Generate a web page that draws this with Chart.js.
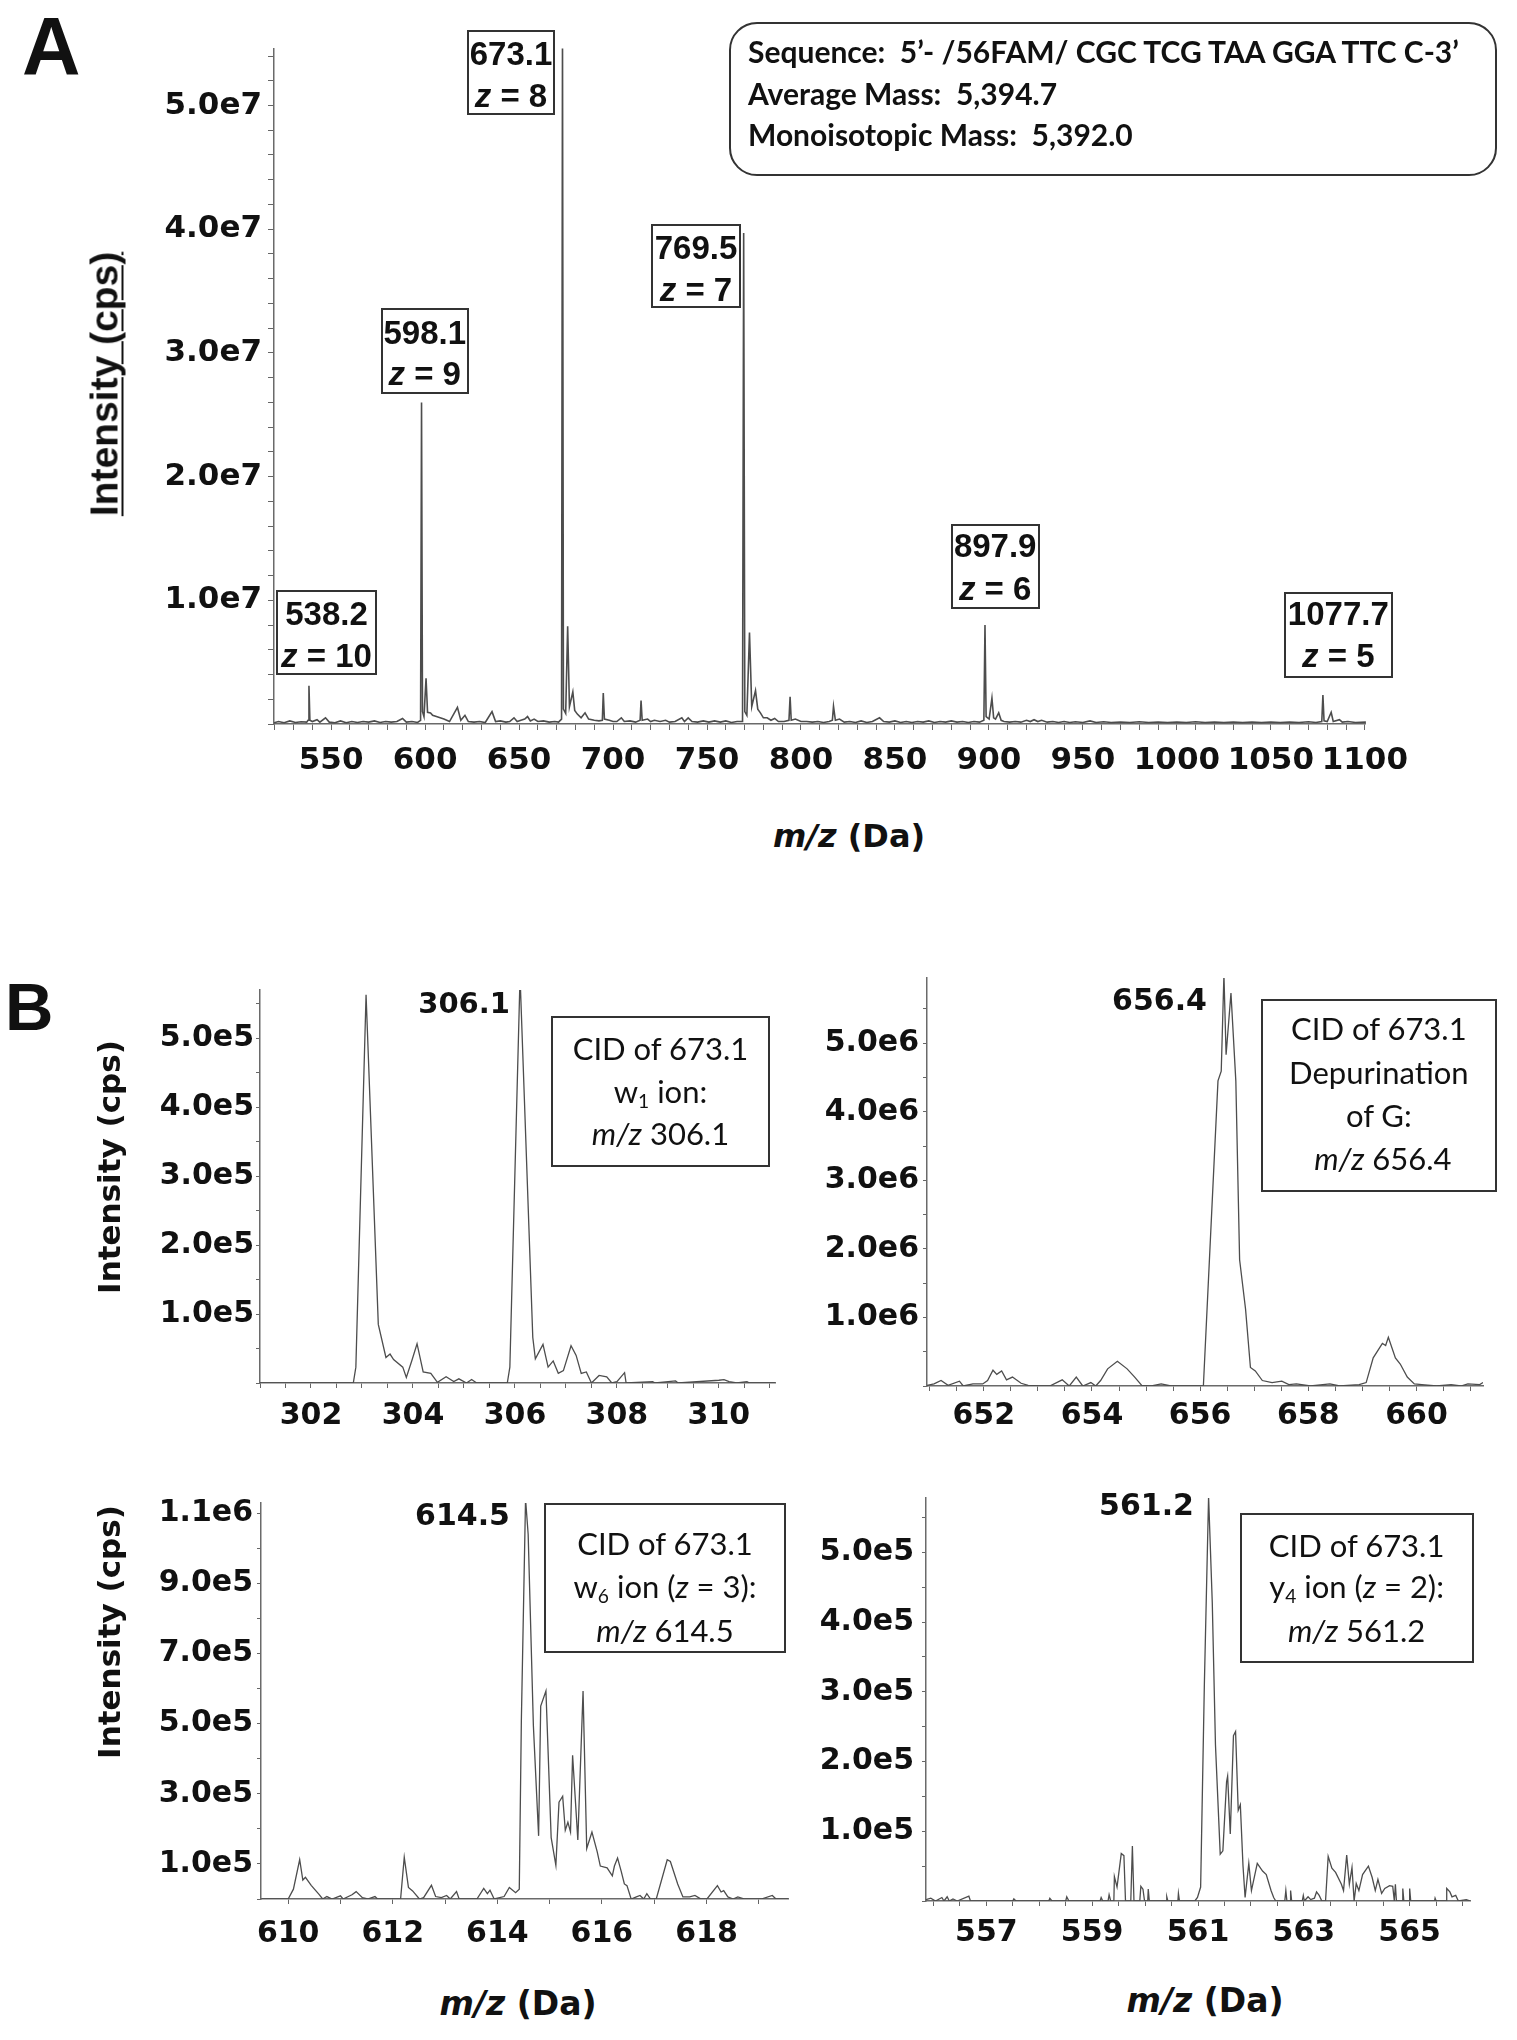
<!DOCTYPE html>
<html>
<head>
<meta charset="utf-8">
<script src="https://cdn.jsdelivr.net/npm/chart.js@4.4.1/dist/chart.umd.min.js"></script>
<style>
  body { margin: 0; background: #fff; }
  #page { position: relative; width: 1517px; height: 2040px; overflow: hidden; background: #fff; }
  canvas { position: absolute; z-index: 1; }
  .t { position: absolute; white-space: nowrap; line-height: 1; color: #111; z-index: 2; }
  .box { position: absolute; border: 2px solid #333; box-sizing: border-box; z-index: 2; }
  sub { font-size: 0.62em; vertical-align: -0.28em; line-height: 0; }
</style>
</head>
<body>
<div id="page">
  <canvas id="chartA"></canvas>
  <canvas id="chartB1"></canvas>
  <canvas id="chartB2"></canvas>
  <canvas id="chartB3"></canvas>
  <canvas id="chartB4"></canvas>
</div>
<script>
// ----- Data: [m/z, intensity (cps)] -----
const specA = [
  [519.6, 1.0e5], [522, 2.0e5], [525, 1.0e5], [528, 2.5e5], [531, 1.2e5], [534, 1.8e5], [537, 1.5e5],
  [537.7, 3e5], [538.2, 3.1e6], [538.7, 3e5], [540, 2e5], [542.5, 3.5e5], [544, 1.5e5], [547, 5e5],
  [549, 1.5e5], [552, 1.0e5], [555, 2.5e5], [558, 1.0e5], [561, 2e5], [564, 1.2e5], [567, 2e5],
  [570, 1.5e5], [573, 2.5e5], [576, 1.2e5], [579, 2e5], [582, 1.5e5], [585, 2e5], [588, 4.5e5],
  [590, 1.5e5], [593, 2e5], [596, 1.2e5], [597.6, 3e5], [598.1, 2.6e7], [598.6, 1.0e6], [599.4, 6e5],
  [600.5, 3.7e6], [601.3, 9.5e5], [602.9, 9e5], [604, 7e5], [606, 6e5], [608, 5e5], [610, 4e5],
  [613, 2e5], [617.2, 1.35e6], [619, 3e5], [621.2, 7e5], [623, 2e5], [626, 1.5e5], [629, 2e5],
  [632, 1.2e5], [635.6, 1.0e6], [637.5, 2e5], [640, 2.5e5], [643, 1.5e5], [645, 2e5], [647.3, 5e5],
  [649, 2e5], [651, 3e5], [653, 4e5], [654.5, 6e5], [656, 2.5e5], [658, 4e5], [660, 2e5], [663, 2.5e5],
  [666, 1.5e5], [669, 2e5], [671, 1.5e5], [672.6, 4e5], [673.1, 5.6e7], [673.6, 1.2e6], [674.8, 8.5e5],
  [675.85, 7.9e6], [676.8, 1.4e6], [678.6, 2.6e6], [679.6, 1.1e6], [681, 8e5], [683, 5e5], [685.1, 9e5],
  [687, 4e5], [690, 3e5], [692.5, 2.5e5], [694.3, 3e5], [694.8, 2.5e6], [695.4, 4e5], [698, 3e5],
  [700, 2e5], [702, 2e5], [704.4, 5e5], [706, 2e5], [709, 2.5e5], [712, 1.5e5], [714.4, 3e5],
  [714.9, 1.9e6], [715.5, 3e5], [718.4, 4e5], [720, 2e5], [722, 3e5], [725, 2e5], [728, 3e5],
  [730, 1.5e5], [733, 2e5], [736.6, 5e5], [738, 2e5], [740, 5e5], [742, 2e5], [745, 1.5e5], [748, 2.5e5],
  [751, 1.5e5], [754, 2.5e5], [757, 1.5e5], [760, 2.5e5], [763, 1.2e5], [766, 2e5], [768.9, 2e5],
  [769.5, 3.97e7], [770.1, 1.0e6], [771.2, 7e5], [772.6, 7.4e6], [773.8, 1.4e6], [775.8, 2.7e6],
  [777, 1.2e6], [778.4, 9e5], [780, 5e5], [782, 5e5], [784, 3e5], [786, 4.5e5], [788, 2e5], [791, 2e5],
  [793.6, 3e5], [794.2, 2.2e6], [794.8, 3e5], [797, 4e5], [800, 2e5], [803, 2e5], [806, 1.5e5],
  [809, 2e5], [812, 1.2e5], [815, 2e5], [816.7, 3e5], [817.3, 1.43e6], [818.3, 3e5], [820.5, 4e5],
  [823, 1.5e5], [826, 2e5], [829, 1.2e5], [832, 2.5e5], [835, 1.2e5], [838, 2e5], [841.8, 5e5],
  [844, 2e5], [847, 1.5e5], [850, 2.5e5], [853, 1.2e5], [856, 2e5], [859, 1.2e5], [862, 2e5],
  [865, 1.5e5], [868, 2.5e5], [871, 1.2e5], [874, 2e5], [877, 1.5e5], [880, 2.5e5], [883, 1.5e5],
  [886, 2e5], [889, 1.2e5], [892, 2e5], [895, 1.5e5], [897.3, 3e5], [897.9, 8.0e6], [898.5, 6e5],
  [900.1, 4e5], [901.6, 2.1e6], [902.5, 5e5], [903.5, 4e5], [905.2, 9e5], [906.5, 3e5], [908, 2e5],
  [911, 1.5e5], [914, 2e5], [917, 1.5e5], [920, 3e5], [922, 2e5], [924, 3.5e5], [926, 2e5], [928, 3e5],
  [931, 1.5e5], [934, 2e5], [937, 1.2e5], [940, 2e5], [943, 1.2e5], [946, 1.8e5], [950, 1.2e5],
  [953.8, 2.5e5], [957, 1.2e5], [961, 1.8e5], [965, 1.2e5], [970, 1.6e5], [975, 1.2e5], [980, 1.8e5],
  [985, 1.2e5], [990, 1.6e5], [995, 1.2e5], [1000, 1.6e5], [1005, 1.2e5], [1010, 1.8e5], [1015, 1.2e5],
  [1020, 1.6e5], [1025, 1.2e5], [1030, 1.6e5], [1035, 1.2e5], [1040, 1.6e5], [1045, 1.2e5],
  [1050, 1.6e5], [1055, 1.2e5], [1060, 1.6e5], [1065, 1.2e5], [1070, 1.8e5], [1074, 1.2e5],
  [1077.1, 2e5], [1077.7, 2.35e6], [1078.3, 2.5e5], [1080, 2e5], [1082.1, 9.5e5], [1083.2, 2e5],
  [1086.5, 3.5e5], [1088, 1.5e5], [1091, 2e5], [1095, 1.2e5], [1100.6, 1.5e5]
];

const specB1 = [
  [301.0, 0], [302.83, 0], [302.88, 0.23e5], [303.08, 5.63e5], [303.32, 0.85e5], [303.47, 0.37e5],
  [303.55, 0.42e5], [303.62, 0.34e5], [303.8, 0.23e5], [303.87, 0.08e5], [303.98, 0.33e5],
  [304.08, 0.57e5], [304.2, 0.16e5], [304.35, 0.14e5], [304.48, 0.01e5], [304.65, 0.09e5],
  [304.8, 0.02e5], [304.9, 0.06e5], [305.05, 0], [305.15, 0.05e5], [305.25, 0], [305.85, 0],
  [305.9, 0.23e5], [306.1, 5.9e5], [306.35, 0.66e5], [306.4, 0.35e5], [306.55, 0.56e5],
  [306.65, 0.23e5], [306.75, 0.32e5], [306.85, 0.14e5], [306.95, 0.18e5], [307.1, 0.54e5],
  [307.2, 0.4e5], [307.3, 0.14e5], [307.4, 0.16e5], [307.5, 0], [307.65, 0.11e5], [307.8, 0.09e5],
  [307.9, 0], [308.0, 0.02e5], [308.15, 0.15e5], [308.18, 0], [308.7, 0.02e5], [308.75, 0],
  [309.15, 0.03e5], [309.2, 0], [310.0, 0.04e5], [310.1, 0.05e5], [310.2, 0.02e5], [310.35, 0],
  [310.55, 0.02e5], [310.6, 0], [311.1, 0]
];

const specB2 = [
  [650.95, 0.01e6], [651.08, 0.03e6], [651.21, 0.08e6], [651.34, 0.01e6], [651.55, 0.07e6], [651.62, 0],
  [651.8, 0.03e6], [651.98, 0.03e6], [652.07, 0.08e6], [652.17, 0.23e6], [652.24, 0.17e6],
  [652.33, 0.22e6], [652.42, 0.09e6], [652.53, 0.13e6], [652.69, 0.04e6], [652.82, 0.01e6],
  [653.0, 0], [653.22, 0], [653.45, 0.09e6], [653.58, 0], [653.71, 0.13e6], [653.83, 0],
  [653.98, 0.05e6], [654.07, 0], [654.16, 0.08e6], [654.29, 0.25e6], [654.47, 0.36e6],
  [654.65, 0.25e6], [654.79, 0.13e6], [654.92, 0.01e6], [655.1, 0], [655.28, 0.03e6], [655.46, 0],
  [655.68, 0], [656.06, 0], [656.33, 4.45e6], [656.39, 4.59e6], [656.44, 6.0e6], [656.48, 4.83e6],
  [656.57, 5.73e6], [656.66, 4.45e6], [656.73, 1.84e6], [656.84, 1.12e6], [656.93, 0.27e6],
  [657.02, 0.22e6], [657.15, 0.08e6], [657.33, 0.05e6], [657.51, 0.07e6], [657.64, 0.02e6],
  [657.78, 0.03e6], [658.04, 0], [658.4, 0.03e6], [658.58, 0], [658.94, 0.02e6], [659.07, 0.05e6],
  [659.2, 0.41e6], [659.37, 0.62e6], [659.43, 0.59e6], [659.48, 0.71e6], [659.61, 0.41e6],
  [659.7, 0.32e6], [659.83, 0.13e6], [659.96, 0.03e6], [660.1, 0.02e6], [660.37, 0], [660.64, 0.02e6],
  [660.82, 0], [660.95, 0.03e6], [661.17, 0.02e6], [661.23, 0.05e6]
];

const specB3 = [
  [609.49, 0], [610.0, 0], [610.1, 0.28e5], [610.22, 1.12e5], [610.28, 0.54e5], [610.33, 0.62e5],
  [610.44, 0.39e5], [610.59, 0.13e5], [610.66, 0], [610.74, 0.07e5], [610.84, 0], [611.0, 0.09e5],
  [611.05, 0], [611.22, 0.12e5], [611.3, 0.21e5], [611.42, 0.04e5], [611.52, 0], [611.66, 0.07e5],
  [611.71, 0], [612.15, 0], [612.22, 1.19e5], [612.3, 0.33e5], [612.38, 0.23e5], [612.51, 0],
  [612.59, 0.04e5], [612.74, 0.39e5], [612.82, 0.07e5], [612.93, 0.04e5], [613.03, 0.1e5], [613.1, 0],
  [613.22, 0.21e5], [613.27, 0], [613.61, 0], [613.74, 0.3e5], [613.81, 0.15e5], [613.86, 0.25e5],
  [613.94, 0], [614.13, 0.07e5], [614.23, 0.33e5], [614.35, 0.18e5], [614.42, 0.28e5], [614.46, 5.1e5],
  [614.54, 11.4e5], [614.59, 10.4e5], [614.69, 4.94e5], [614.79, 1.8e5], [614.83, 5.5e5],
  [614.93, 5.93e5], [615.03, 1.75e5], [615.12, 0.96e5], [615.18, 2.76e5], [615.25, 2.93e5],
  [615.3, 1.96e5], [615.35, 2.19e5], [615.4, 1.91e5], [615.44, 4.1e5], [615.54, 1.68e5],
  [615.64, 5.93e5], [615.71, 1.44e5], [615.81, 1.91e5], [615.91, 1.35e5], [615.97, 0.94e5],
  [616.1, 0.89e5], [616.2, 0.66e5], [616.24, 0.94e5], [616.3, 1.17e5], [616.37, 0.79e5],
  [616.43, 0.43e5], [616.48, 0.38e5], [616.56, 0], [616.66, 0.06e5], [616.73, 0.1e5], [616.8, 0],
  [616.86, 0.15e5], [616.93, 0], [617.04, 0], [617.25, 1.12e5], [617.31, 1.07e5], [617.45, 0.43e5],
  [617.55, 0.06e5], [617.68, 0.06e5], [617.78, 0.1e5], [617.88, 0.01e5], [618.01, 0], [618.21, 0.38e5],
  [618.28, 0.2e5], [618.33, 0.24e5], [618.41, 0.06e5], [618.51, 0], [618.6, 0.06e5], [618.73, 0],
  [619.05, 0], [619.26, 0.1e5], [619.33, 0], [619.56, 0]
];

const specB4 = [
  [555.86, 0.02e5], [555.95, 0.04e5], [556.04, 0], [556.16, 0.05e5], [556.2, 0], [556.26, 0.06e5],
  [556.3, 0], [556.37, 0.03e5], [556.45, 0], [556.67, 0.07e5], [556.7, 0], [557.5, 0], [557.52, 0.03e5],
  [557.56, 0], [558.18, 0], [558.2, 0.04e5], [558.24, 0], [558.5, 0], [558.52, 0.06e5], [558.56, 0],
  [559.15, 0], [559.17, 0.05e5], [559.2, 0], [559.3, 0], [559.32, 0.09e5], [559.35, 0], [559.41, 0],
  [559.42, 0.35e5], [559.47, 0.2e5], [559.55, 0.68e5], [559.6, 0.65e5], [559.63, 0], [559.73, 0],
  [559.76, 0.79e5], [559.79, 0], [559.9, 0], [559.92, 0.21e5], [559.96, 0.17e5], [559.99, 0],
  [560.05, 0], [560.06, 0.17e5], [560.08, 0], [560.4, 0], [560.41, 0.06e5], [560.43, 0], [560.62, 0],
  [560.63, 0.11e5], [560.65, 0], [560.94, 0], [560.99, 0.05e5], [561.05, 0.2e5], [561.12, 3.1e5],
  [561.2, 5.8e5], [561.27, 4.27e5], [561.33, 2.24e5], [561.42, 0.67e5], [561.47, 0.72e5],
  [561.54, 1.71e5], [561.56, 1.79e5], [561.61, 0.96e5], [561.67, 2.37e5], [561.71, 2.43e5],
  [561.76, 1.3e5], [561.8, 1.38e5], [561.85, 0.51e5], [561.89, 0.05e5], [561.96, 0.54e5],
  [562.01, 0.15e5], [562.12, 0.54e5], [562.22, 0.43e5], [562.29, 0.38e5], [562.38, 0.15e5],
  [562.43, 0.05e5], [562.47, 0], [562.64, 0], [562.66, 0.15e5], [562.68, 0], [562.74, 0],
  [562.75, 0.15e5], [562.77, 0], [562.97, 0], [562.99, 0.08e5], [563.01, 0], [563.08, 0.06e5],
  [563.13, 0.02e5], [563.2, 0.04e5], [563.24, 0.13e5], [563.29, 0.08e5], [563.34, 0], [563.41, 0],
  [563.46, 0.64e5], [563.53, 0.47e5], [563.6, 0.41e5], [563.71, 0.24e5], [563.75, 0.15e5],
  [563.81, 0.66e5], [563.86, 0.24e5], [563.91, 0.48e5], [563.95, 0], [563.99, 0.25e5], [564.04, 0.15e5],
  [564.11, 0.38e5], [564.22, 0.5e5], [564.29, 0.34e5], [564.35, 0.15e5], [564.4, 0.31e5],
  [564.47, 0.11e5], [564.53, 0.18e5], [564.62, 0.22e5], [564.68, 0.21e5], [564.71, 0], [564.73, 0.24e5],
  [564.75, 0], [564.86, 0], [564.87, 0.18e5], [564.89, 0], [564.99, 0], [565.0, 0.18e5], [565.02, 0],
  [565.47, 0], [565.48, 0.04e5], [565.5, 0], [565.69, 0], [565.7, 0.18e5], [565.76, 0.13e5],
  [565.8, 0.06e5], [565.87, 0.08e5], [565.92, 0], [566.07, 0.02e5], [566.14, 0]
];

// tick labels
const aXLabels = [550, 600, 650, 700, 750, 800, 850, 900, 950, 1000, 1050, 1100];
const aYLabels = [1e7, 2e7, 3e7, 4e7, 5e7];
const b1XLabels = [302, 304, 306, 308, 310];
const b1YLabels = [1e5, 2e5, 3e5, 4e5, 5e5];
const b2XLabels = [652, 654, 656, 658, 660];
const b2YLabels = [1e6, 2e6, 3e6, 4e6, 5e6];
const b3XLabels = [610, 612, 614, 616, 618];
const b3YLabels = [1e5, 3e5, 5e5, 7e5, 9e5, 1.1e6];
const b4XLabels = [557, 559, 561, 563, 565];
const b4YLabels = [1e5, 2e5, 3e5, 4e5, 5e5];

// ----- Layout helpers -----
const YW = 160, XH = 80, PT = 12, PR = 40;

function tickFont(size) {
  return { family: "'DejaVu Sans'", weight: "bold", size };
}

function stepTicks(min, max, step) {
  const out = [];
  for (let k = Math.ceil(min / step - 1e-9); k * step <= max + 1e-9; k++) {
    out.push({ value: Math.round(k * step * 1e6) / 1e6 });
  }
  return out;
}

function isLabel(list, v, step) {
  return list.some((l) => Math.abs(l - v) < step * 1e-4);
}

function sci(v) {
  const exp = Math.floor(Math.log10(v) + 1e-9);
  return (v / Math.pow(10, exp)).toFixed(1) + "e" + exp;
}

function xAxis(min, max, step, labels, tl, pad, fs) {
  return {
    type: "linear", min, max, bounds: "data",
    afterBuildTicks: (s) => { s.ticks = stepTicks(min, max, step); },
    afterFit: (s) => { s.height = XH; },
    grid: { drawOnChartArea: false, drawTicks: true, tickLength: tl, tickColor: "#666", tickWidth: 1 },
    border: { display: true, color: "#6a6a6a", width: 1.5 },
    ticks: {
      autoSkip: false, maxRotation: 0, minRotation: 0, padding: pad, color: "#111", font: tickFont(fs),
      callback: (v) => (isLabel(labels, v, step) ? String(Math.round(v)) : ""),
    },
  };
}

function yAxis(max, step, labels, tl, pad, fs) {
  return {
    type: "linear", min: 0, max, bounds: "data",
    afterBuildTicks: (s) => { s.ticks = stepTicks(0, max, step); },
    afterFit: (s) => { s.width = YW; },
    grid: { drawOnChartArea: false, drawTicks: true, tickLength: tl, tickColor: "#666", tickWidth: 1 },
    border: { display: true, color: "#6a6a6a", width: 1.5 },
    ticks: {
      autoSkip: false, padding: pad, color: "#111", font: tickFont(fs),
      callback: (v) => (isLabel(labels, v, step) ? sci(v) : ""),
    },
  };
}

function spectrum(id, area, pairs, x, y, lineWidth) {
  const cv = document.getElementById(id);
  const w = area.r - area.l + YW + PR;
  const h = area.b - area.t + PT + XH;
  cv.width = w; cv.height = h;
  cv.style.width = w + "px"; cv.style.height = h + "px";
  cv.style.left = area.l - YW + "px";
  cv.style.top = area.t - PT + "px";
  return new Chart(cv, {
    type: "scatter",
    data: {
      datasets: [{
        data: pairs.map((p) => ({ x: p[0], y: p[1] })),
        showLine: true, borderColor: "#4d4d4d", borderWidth: lineWidth,
        pointRadius: 0, tension: 0, fill: false,
      }],
    },
    options: {
      responsive: false, animation: false, devicePixelRatio: 1, events: [],
      layout: { padding: { top: PT, right: PR, left: 0, bottom: 0 } },
      plugins: { legend: { display: false }, tooltip: { enabled: false } },
      scales: { x, y },
    },
  });
}

spectrum("chartA", { l: 274, t: 36, r: 1380, b: 724 }, specA,
  xAxis(519.6, 1100.6, 10, aXLabels, 6, 12, 31), yAxis(5.46e7, 2e6, aYLabels, 6, 6, 31), 1.6);
spectrum("chartB1", { l: 260, t: 982, r: 775, b: 1383 }, specB1,
  xAxis(301.0, 311.1, 0.5, b1XLabels, 5, 10, 30), yAxis(5.7e5, 0.5e5, b1YLabels, 4, 2, 30), 1.3);
spectrum("chartB2", { l: 927, t: 968, r: 1483, b: 1386 }, specB2,
  xAxis(650.95, 661.23, 0.5, b2XLabels, 5, 7, 30), yAxis(5.95e6, 0.5e6, b2YLabels, 4, 4, 30), 1.3);
spectrum("chartB3", { l: 261, t: 1493, r: 788, b: 1899 }, specB3,
  xAxis(609.48, 619.56, 1, b3XLabels, 5, 12, 30), yAxis(1.129e6, 1e5, b3YLabels, 4, 4, 30), 1.3);
spectrum("chartB4", { l: 926, t: 1484, r: 1470, b: 1901 }, specB4,
  xAxis(555.86, 566.14, 0.5, b4XLabels, 5, 9, 30), yAxis(5.78e5, 0.5e5, b4YLabels, 4, 8, 30), 1.3);

// ----- Text overlays -----
const page = document.getElementById("page");
const FAM = {
  dv: { css: "'DejaVu Sans', sans-serif", k: 0.846 },
  lib: { css: "'Liberation Sans', Arial, sans-serif", k: 0.847 },
  lato: { css: "Lato, 'Open Sans', sans-serif", k: 0.887 },
};

function txt(html, x, base, size, fam, weight, align) {
  const el = document.createElement("div");
  el.className = "t";
  el.innerHTML = html;
  el.style.fontFamily = FAM[fam].css;
  el.style.fontSize = size + "px";
  el.style.fontWeight = weight || "normal";
  el.style.left = x + "px";
  el.style.top = base - FAM[fam].k * size + "px";
  const shift = align === "center" ? "-50%" : align === "right" ? "-100%" : "0";
  el.style.transform = "translateX(" + shift + ")";
  page.appendChild(el);
  return el;
}

function vtxt(html, cx, cy, size, fam, underline) {
  const el = document.createElement("div");
  el.className = "t";
  el.innerHTML = html;
  el.style.fontFamily = FAM[fam].css;
  el.style.fontSize = size + "px";
  el.style.fontWeight = "bold";
  el.style.left = cx + "px";
  el.style.top = cy + "px";
  el.style.transform = "translate(-50%, -50%) rotate(-90deg)";
  if (underline) {
    el.style.textDecoration = "underline";
    el.style.textDecorationThickness = "2px";
    el.style.textUnderlineOffset = "4px";
  }
  page.appendChild(el);
}

function box(l, t, r, b, radius) {
  const el = document.createElement("div");
  el.className = "box";
  el.style.left = l + "px"; el.style.top = t + "px";
  el.style.width = r - l + "px"; el.style.height = b - t + "px";
  if (radius) el.style.borderRadius = radius + "px";
  page.appendChild(el);
}

// panel letters
txt("A", 22, 75, 81, "lib", "bold", "left");
txt("B", 5, 1030, 67, "lib", "bold", "left");

// panel A axis titles
vtxt("Intensity (cps)", 104, 384, 39, "lib", true);
txt("<i>m/z</i> (Da)", 849, 847, 32, "dv", "bold", "center");

// panel A peak labels
const peakBoxes = [
  { l: 467, t: 30, r: 555, b: 115, m: "673.1", z: "8", b1: 65.4, b2: 106.6 },
  { l: 380.5, t: 308, r: 469, b: 393.6, m: "598.1", z: "9", b1: 344, b2: 385 },
  { l: 276, t: 590, r: 377, b: 675, m: "538.2", z: "10", b1: 625, b2: 666.5 },
  { l: 651, t: 224, r: 741, b: 308, m: "769.5", z: "7", b1: 259, b2: 300.5 },
  { l: 950.6, t: 523.5, r: 1039.8, b: 609, m: "897.9", z: "6", b1: 557.4, b2: 600 },
  { l: 1283.6, t: 592, r: 1393, b: 677.6, m: "1077.7", z: "5", b1: 625.3, b2: 666.5 },
];
peakBoxes.forEach((p) => {
  box(p.l, p.t, p.r, p.b);
  const cx = (p.l + p.r) / 2;
  txt(p.m, cx, p.b1, 33, "lib", "bold", "center");
  txt("<i>z</i> = " + p.z, cx, p.b2, 33, "lib", "bold", "center");
});

// sequence info box
box(729, 22, 1497, 175.5, 28);
txt("Sequence:&nbsp; 5’- /56FAM/ CGC TCG TAA GGA TTC C-3’", 748, 63, 30, "lato", "bold", "left");
txt("Average Mass:&nbsp; 5,394.7", 748, 104.5, 30, "lato", "bold", "left");
txt("Monoisotopic Mass:&nbsp; 5,392.0", 748, 145.5, 30, "lato", "bold", "left");

// panel B axis titles
vtxt("Intensity (cps)", 109, 1167, 31, "dv", false);
vtxt("Intensity (cps)", 109, 1632, 31, "dv", false);
txt("<i>m/z</i> (Da)", 518, 2015, 33, "dv", "bold", "center");
txt("<i>m/z</i> (Da)", 1205, 2012, 33, "dv", "bold", "center");

// panel B peak labels
txt("306.1", 510, 1014, 29, "dv", "bold", "right");
txt("656.4", 1207, 1010, 30, "dv", "bold", "right");
txt("614.5", 510, 1525, 30, "dv", "bold", "right");
txt("561.2", 1194, 1515, 30, "dv", "bold", "right");

// CID boxes
const cidBoxes = [
  { l: 551, t: 1016, r: 770, b: 1167, lines: ["CID of 673.1", "w<sub>1</sub> ion:", "<i>m/z</i> 306.1"], base: [1060, 1103, 1145] },
  { l: 1260.7, t: 999, r: 1497, b: 1191.7, lines: ["CID of 673.1", "Depurination", "of G:", "&nbsp;<i>m/z</i> 656.4"], base: [1040, 1084, 1127, 1170.5] },
  { l: 544, t: 1502.7, r: 786, b: 1653, lines: ["CID of 673.1", "w<sub>6</sub> ion (<i>z</i> = 3):", "<i>m/z</i> 614.5"], base: [1555, 1598.6, 1642] },
  { l: 1239.5, t: 1513, r: 1473.7, b: 1663, lines: ["CID of 673.1", "y<sub>4</sub> ion (<i>z</i> = 2):", "<i>m/z</i> 561.2"], base: [1557, 1598.6, 1642.6] },
];
cidBoxes.forEach((c) => {
  box(c.l, c.t, c.r, c.b);
  const cx = (c.l + c.r) / 2;
  c.lines.forEach((s, i) => txt(s, cx, c.base[i], 31, "lato", "normal", "center"));
});
</script>
</body>
</html>
